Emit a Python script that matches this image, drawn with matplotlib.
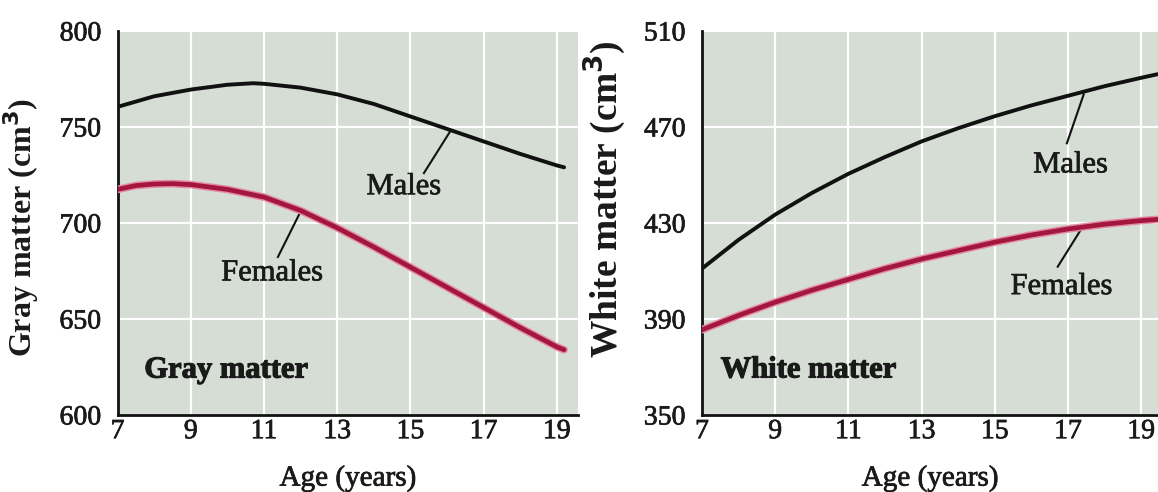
import matplotlib
matplotlib.use('Agg')
import matplotlib.pyplot as plt
import matplotlib.patheffects as pe

# Brain volume vs age
gray_age = [7, 8, 9, 10, 10.7, 11, 12, 13, 14, 15, 16, 17, 18, 19, 19.2]
gray_males = [760.5, 766, 769.5, 772, 772.8, 772.5, 770.5, 767, 762, 755.5, 749, 742.5, 736, 730, 729]
gray_fem_age = [7, 7.5, 8, 8.5, 9, 10, 11, 12, 13, 14, 15, 16, 17, 18, 19, 19.2]
gray_females = [717.5, 719.5, 720.3, 720.5, 720, 717.5, 713.5, 706.5, 697.5, 687.5, 677, 666.5, 656, 645.5, 635.5, 634]

white_age = [7, 8, 9, 10, 11, 12, 13, 14, 15, 16, 17, 18, 19, 19.45]
white_males = [411, 423, 433.5, 442.5, 450.5, 457.5, 464, 469.5, 474.5, 479, 483, 487, 490.5, 492]
white_females = [385.5, 391.5, 397, 402, 406.5, 411, 415, 418.5, 422, 425, 427.5, 429.5, 431, 431.5]

xticks = [7, 9, 11, 13, 15, 17, 19]
gray_yticks = [600, 650, 700, 750, 800]
white_yticks = [350, 390, 430, 470, 510]

plt.rcParams['font.family'] = ['Liberation Serif', 'DejaVu Serif']

BG = '#d5ddd4'
RED = '#a3173d'
HALO = '#e58aa5'
TXT = '#1a1a1a'
heavy = [pe.withStroke(linewidth=0.5, foreground=TXT)]
heavier = [pe.withStroke(linewidth=0.8, foreground=TXT)]

fig = plt.figure(figsize=(11.58, 4.92), dpi=100)
ax1 = fig.add_axes([117.6/1158, 1-415/492, (578-117.6)/1158, 384/492])
ax2 = fig.add_axes([702/1158, 1-415/492, 456/1158, 384/492])


def style(ax, xmax, yticks, ylabel, ylab_size, ylab_xy):
    ax.set_facecolor(BG)
    ax.set_xlim(7, xmax)
    ax.set_ylim(yticks[0], yticks[-1])
    ax.set_xticks(xticks)
    ax.set_yticks(yticks)
    for s in ['top', 'right']:
        ax.spines[s].set_visible(False)
    for s in ['left', 'bottom']:
        ax.spines[s].set_linewidth(2)
        ax.spines[s].set_color('#111')
    ax.tick_params(axis='both', length=0, labelsize=20, colors=TXT)
    ax.tick_params(axis='x', pad=3)
    ax.tick_params(axis='y', pad=12)
    for lab in ax.get_xticklabels() + ax.get_yticklabels():
        lab.set_path_effects(heavy)
    ax.grid(True, color='white', lw=1.6)
    ax.set_axisbelow(True)
    ax.set_xlabel('Age (years)', fontsize=21, color=TXT, labelpad=15, path_effects=heavy)
    ax.set_ylabel(ylabel, fontsize=ylab_size, fontweight='bold', color=TXT)
    ax.yaxis.set_label_coords(*ylab_xy)
    return ax


style(ax1, 19.58, gray_yticks, 'Gray matter (cm$^\\mathbf{3}$)', 23, (-0.166, 0.488))
style(ax2, 19.46, white_yticks, 'White matter (cm$^\\mathbf{3}$)', 27, (-0.162, 0.5625))

line_kw = dict(solid_capstyle='round', solid_joinstyle='round')

# gray matter panel
ax1.plot(gray_age, gray_males, color='#111', lw=2.8, zorder=3, **line_kw)
ax1.plot(gray_fem_age, gray_females, color=HALO, lw=5.5, zorder=3, **line_kw)
ax1.plot(gray_fem_age, gray_females, color=RED, lw=3.4, zorder=4, **line_kw)
ax1.plot([16.08, 15.37], [747.5, 726], color='#111', lw=1.5)
ax1.text(14.82, 718.9, 'Males', fontsize=22, ha='center', va='center', color=TXT, path_effects=heavy)
ax1.plot([11.98, 11.38], [705.2, 682.3], color='#111', lw=1.5)
ax1.text(11.22, 674, 'Females', fontsize=22, ha='center', va='center', color=TXT, path_effects=heavy)
ax1.text(7.73, 623.4, 'Gray matter', fontsize=22, fontweight='bold', ha='left', va='center',
         color=TXT, path_effects=heavier)

# white matter panel
ax2.plot(white_age, white_males, color='#111', lw=2.8, zorder=3, **line_kw)
ax2.plot(white_age, white_females, color=HALO, lw=5.5, zorder=3, **line_kw)
ax2.plot(white_age, white_females, color=RED, lw=3.4, zorder=4, **line_kw)
ax2.plot([17.43, 16.97], [483.6, 463.2], color='#111', lw=1.5)
ax2.text(17.07, 454.2, 'Males', fontsize=22, ha='center', va='center', color=TXT, path_effects=heavy)
ax2.plot([17.38, 16.72], [427.9, 411.8], color='#111', lw=1.5)
ax2.text(16.82, 403.5, 'Females', fontsize=22, ha='center', va='center', color=TXT, path_effects=heavy)
ax2.text(7.51, 368.75, 'White matter', fontsize=22, fontweight='bold', ha='left', va='center',
         color=TXT, path_effects=heavier)

fig.savefig('out.png', dpi=100)
